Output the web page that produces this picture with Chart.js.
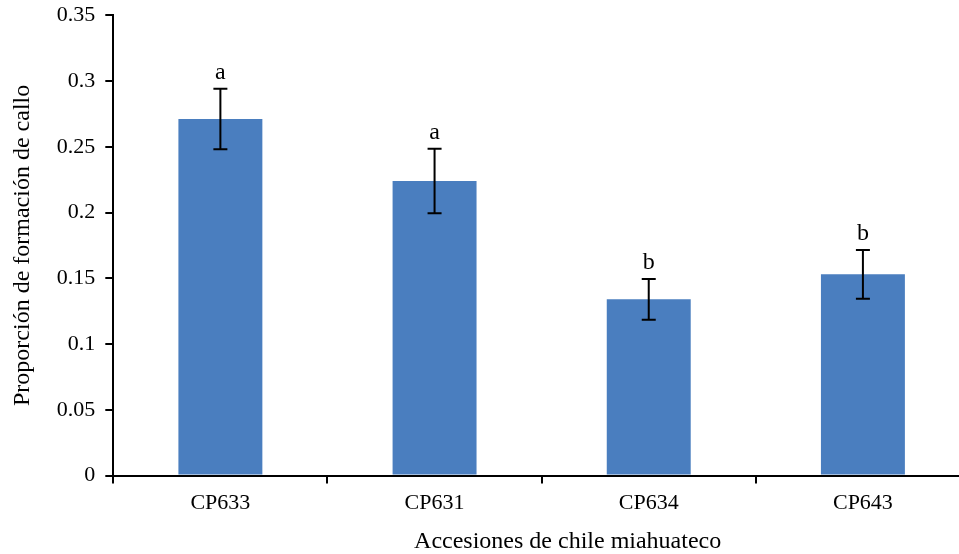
<!DOCTYPE html>
<html>
<head>
<meta charset="utf-8">
<script src="https://cdn.jsdelivr.net/npm/chart.js@4.4.1/dist/chart.umd.min.js"></script>
<style>
    html, body { margin: 0; padding: 0; overflow: hidden; background: #fff; }
    #wrap { width: 970px; height: 562px; margin-top: -8px; }
</style>
</head>
<body>
<div id="wrap"><canvas id="calloChart"></canvas></div>
<script>
const accesiones = ['CP633', 'CP631', 'CP634', 'CP643'];
const proporcion = [0.271, 0.224, 0.134, 0.153];
const errorEst = [0.023, 0.0245, 0.0155, 0.0185];
const letras = ['a', 'a', 'b', 'b'];
const yTicks = [0, 0.05, 0.1, 0.15, 0.2, 0.25, 0.3, 0.35];
const xTitulo = 'Accesiones de chile miahuateco';

const serif = '"Liberation Serif", "Times New Roman", serif';

// error bars + significance letters, plus the x title (sits a bit right of centre in the original)
const errorBars = {
    id: 'errorBars',
    afterDatasetsDraw(chart) {
        const ctx = chart.ctx;
        const y = chart.scales.y;
        const meta = chart.getDatasetMeta(0);
        ctx.save();
        ctx.strokeStyle = '#000';
        ctx.lineWidth = 2;
        ctx.fillStyle = '#000';
        ctx.font = '24px ' + serif;
        ctx.textAlign = 'center';
        ctx.textBaseline = 'alphabetic';
        meta.data.forEach((bar, i) => {
            const top = y.getPixelForValue(proporcion[i] + errorEst[i]);
            const bot = y.getPixelForValue(proporcion[i] - errorEst[i]);
            ctx.beginPath();
            ctx.moveTo(bar.x, top);
            ctx.lineTo(bar.x, bot);
            ctx.moveTo(bar.x - 7, top);
            ctx.lineTo(bar.x + 7, top);
            ctx.moveTo(bar.x - 7, bot);
            ctx.lineTo(bar.x + 7, bot);
            ctx.stroke();
            ctx.fillText(letras[i], bar.x, top - 10);
        });
        const area = chart.chartArea;
        ctx.fillText(xTitulo, (area.left + area.right) / 2 + 26, chart.height - 6);
        ctx.restore();
    }
};

const config = {
    type: 'bar',
    data: {
        labels: accesiones,
        datasets: [{
            data: proporcion,
            backgroundColor: '#4a7ebf',
            borderWidth: 0,
            barPercentage: 0.8,
            categoryPercentage: 0.49,
        }]
    },
    options: {
        responsive: true,
        maintainAspectRatio: false,
        animation: false,
        layout: { padding: { top: -3, left: 8, right: 0, bottom: 32 } },
        plugins: {
            legend: { display: false },
            tooltip: { enabled: false },
        },
        scales: {
            y: {
                min: 0,
                max: 0.35,
                afterBuildTicks: (axis) => { axis.ticks = yTicks.map(v => ({ value: v })); },
                border: { color: '#000', width: 2 },
                grid: { drawOnChartArea: false, drawTicks: true, tickLength: 8, color: '#000', lineWidth: 2 },
                ticks: {
                    color: '#000',
                    padding: 10,
                    font: { family: serif, size: 22 },
                    callback: (v) => String(parseFloat(v.toFixed(2))),
                },
                title: {
                    display: true,
                    text: 'Proporción de formación de callo',
                    color: '#000',
                    font: { family: serif, size: 24 },
                    padding: { top: 0, bottom: 10 },
                },
            },
            x: {
                border: { color: '#000', width: 2 },
                grid: { drawOnChartArea: false, drawTicks: true, tickLength: 8, color: '#000', lineWidth: 2, offset: true },
                ticks: {
                    color: '#000',
                    padding: 6,
                    font: { family: serif, size: 22 },
                },
                title: { display: false },
            },
        },
    },
    plugins: [errorBars],
};

const calloChart = new Chart(document.getElementById('calloChart'), config);
</script>
</body>
</html>
